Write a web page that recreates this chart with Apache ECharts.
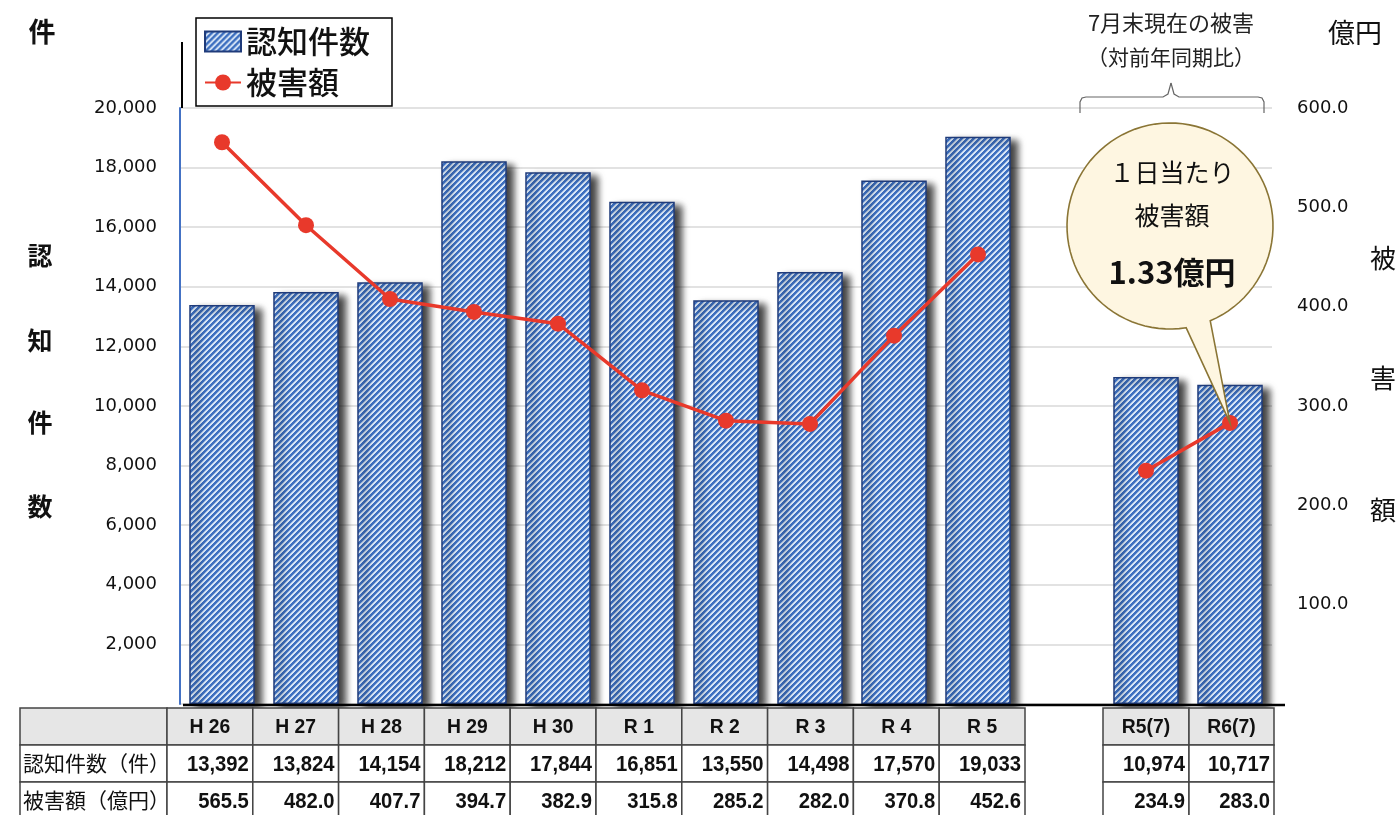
<!DOCTYPE html>
<html><head><meta charset="utf-8">
<script src="https://cdn.jsdelivr.net/npm/echarts@6/dist/echarts.min.js"></script>
<style>html,body{margin:0;padding:0;background:#fff}#c{width:1398px;height:815px}</style>
</head><body><div id="c"></div>
<script>
const categories = ['H 26','H 27','H 28','H 29','H 30','R 1','R 2','R 3','R 4','R 5','','R5(7)','R6(7)'];
const counts = [13392,13824,14154,18212,17844,16851,13550,14498,17570,19033,null,10974,10717];
const damage = [565.5,482.0,407.7,394.7,382.9,315.8,285.2,282.0,370.8,452.6,null,234.9,283.0];
const leftTicks = [0,2000,4000,6000,8000,10000,12000,14000,16000,18000,20000];
const rightTicks = [0,100,200,300,400,500,600];
const rowHeaders = ['認知件数（件）','被害額（億円）'];
const legendNames = ['認知件数','被害額'];
const noteLines = ['7月末現在の被害','（対前年同期比）'];
const bubbleLines = ['１日当たり','被害額','1.33億円'];

const JP = '"Noto Sans CJK JP","Noto Sans",sans-serif';
const NUM = '"Liberation Sans","Arimo",sans-serif';

function stripe(){
  const s = 12, c = document.createElement('canvas');
  c.width = s; c.height = s;
  const ctx = c.getContext('2d');
  const img = ctx.createImageData(s, s);
  for (let y=0;y<s;y++) for (let x=0;x<s;x++){
    const k = (x+y)%6;
    const i = (y*s+x)*4;
    let col = k<3 ? [62,112,192] : [218,231,247];
    if (k===3) col=[150,180,224];
    img.data[i]=col[0]; img.data[i+1]=col[1]; img.data[i+2]=col[2]; img.data[i+3]=255;
  }
  ctx.putImageData(img,0,0);
  return c;
}
const pat = {image: stripe(), repeat: 'repeat'};

const chart = echarts.init(document.getElementById('c'));
chart.setOption({
  animation:false,
  textStyle:{fontFamily:JP},
  grid:{left:180,right:126,top:108,bottom:111},
  legend:{
    left:196, top:18, orient:'vertical', itemGap:10,
    padding:[8,22,8,8],
    borderColor:'#000', borderWidth:1.5, backgroundColor:'#fff',
    itemWidth:36, itemHeight:20,
    textStyle:{fontSize:31, color:'#111', fontFamily:JP, fontWeight:500},
    data:[{name:legendNames[0], icon:'rect'},{name:legendNames[1]}]
  },
  xAxis:{type:'category', data:categories,
    axisLine:{show:false}, axisTick:{show:false}, axisLabel:{show:false}},
  yAxis:[
    {type:'value', min:0, max:20000, interval:2000,
     axisLine:{show:true, lineStyle:{color:'#4472c4', width:2}},
     splitLine:{lineStyle:{color:'#d9d9d9', width:1.5}},
     axisLabel:{showMinLabel:false, fontSize:18, color:'#111', margin:23, fontFamily:'"DejaVu Sans",sans-serif',
       formatter:v=>v.toLocaleString('en-US')}},
    {type:'value', min:0, max:600, interval:100, position:'right',
     axisLine:{show:false}, splitLine:{show:false},
     axisLabel:{showMinLabel:false, fontSize:18, color:'#111', margin:25, fontFamily:'"DejaVu Sans",sans-serif',
       formatter:v=>v.toFixed(1)}}
  ],
  series:[
    {name:legendNames[0], type:'bar', data:counts, barCategoryGap:'22%',
     itemStyle:{color:pat, borderColor:'#1f3b7a', borderWidth:1.5,
       shadowColor:'rgba(0,0,0,0.75)', shadowBlur:7, shadowOffsetX:7, shadowOffsetY:4}},
    {name:legendNames[1], type:'line', yAxisIndex:1, data:damage, connectNulls:false,
     symbol:'circle', symbolSize:16, z:5,
     lineStyle:{color:'#e8392b', width:3.5}, itemStyle:{color:'#e8392b'}}
  ]
});

const g = [];
function txt(x,y,text,font,extra){
  g.push(Object.assign({type:'text', x:x, y:y, style:{text:text, font:font, fill:'#111', align:'center', verticalAlign:'middle'}}, extra||{}));
}
txt(42,32,'件','bold 27px '+JP);
['認','知','件','数'].forEach((ch,i)=>txt(40,[255,340,422,506][i],ch,'bold 25px '+JP));
txt(1355,33,'億円','27px '+JP);
['被','害','額'].forEach((ch,i)=>txt(1383,[258,378,510][i],ch,'26px '+JP));

g.push({type:'line', shape:{x1:182,y1:42,x2:182,y2:108}, style:{stroke:'#000', lineWidth:2}});
g.push({type:'line', shape:{x1:183,y1:705,x2:1285,y2:705}, style:{stroke:'#000', lineWidth:2.5}, z:10});

txt(1171,23,noteLines[0],'22px '+JP,{style:{text:noteLines[0], font:'22px '+JP, fill:'#222', align:'center', verticalAlign:'middle'}});
txt(1171,57,noteLines[1],'21px '+JP,{style:{text:noteLines[1], font:'21px '+JP, fill:'#222', align:'center', verticalAlign:'middle'}});
const bs = {stroke:'#666', lineWidth:1.2, fill:null};
g.push({type:'polyline', shape:{points:[[1080,113],[1080,102],[1082,98],[1086,97],[1163,97],[1168,94],[1171,83]]}, style:bs});
g.push({type:'polyline', shape:{points:[[1171,83],[1174,94],[1179,97],[1258,97],[1262,98],[1264,102],[1264,113]]}, style:bs});

// bubble
const tip = chart.convertToPixel({seriesIndex:1}, [12, damage[12]]);
const cx = 1170, cy = 226, r = 103;
const a1 = 81*Math.PI/180, a2 = 67*Math.PI/180;
const pts = [];
for (let i=0;i<=90;i++){
  const a = a1 + (2*Math.PI - (a1-a2))*i/90;
  pts.push([cx + r*Math.cos(a), cy + r*Math.sin(a)]);
}
pts.push([tip[0], tip[1]]);
g.push({type:'polygon', z:20, shape:{points:pts}, style:{fill:'#fef6e1', stroke:'#8a7535', lineWidth:1.6}});
txt(1172,172,bubbleLines[0],'25px '+JP,{z:21});
txt(1172,215,bubbleLines[1],'25px '+JP,{z:21});
txt(1172,272,bubbleLines[2],'bold 31px '+JP,{z:21});

// table
const rowsY = [708, 745, 782, 819];
const colX = [];
for (let i=0;i<10;i++) colX.push([167 + i*85.8, 167 + (i+1)*85.8]);
colX.push(null);
colX.push([1103,1189]); colX.push([1189,1274]);
const rowsVals = [counts.map(v=>v==null?'':v.toLocaleString('en-US')), damage.map(v=>v==null?'':v.toFixed(1))];
function cell(x1,x2,y1,y2,fill){
  g.push({type:'rect', z:30, shape:{x:x1,y:y1,width:x2-x1,height:y2-y1}, style:{fill:fill||'#fff', stroke:'#444', lineWidth:1.5}});
}
cell(20,167,rowsY[0],rowsY[1],'#e6e6e6');
cell(20,167,rowsY[1],rowsY[2]);
cell(20,167,rowsY[2],rowsY[3]);
rowHeaders.forEach((t,i)=>{
  g.push({type:'text', z:31, x:23, y:(rowsY[i+1]+rowsY[i+2])/2, style:{text:t, font:'21px '+JP, fill:'#111', align:'left', verticalAlign:'middle'}});
});
categories.forEach((c,i)=>{
  const cc = colX[i]; if (!cc) return;
  cell(cc[0],cc[1],rowsY[0],rowsY[1],'#e6e6e6');
  g.push({type:'text', z:31, x:(cc[0]+cc[1])/2, y:(rowsY[0]+rowsY[1])/2+1, scaleX:0.92,
    style:{text:c, font:'bold 21px '+NUM, fill:'#111', align:'center', verticalAlign:'middle'}});
  for (let r2=0;r2<2;r2++){
    cell(cc[0],cc[1],rowsY[r2+1],rowsY[r2+2]);
    g.push({type:'text', z:31, x:cc[1]-4, y:(rowsY[r2+1]+rowsY[r2+2])/2+1, scaleX:0.92,
      style:{text:rowsVals[r2][i], font:'bold 22px '+NUM, fill:'#111', align:'right', verticalAlign:'middle'}});
  }
});
chart.setOption({graphic:g});
</script></body></html>
